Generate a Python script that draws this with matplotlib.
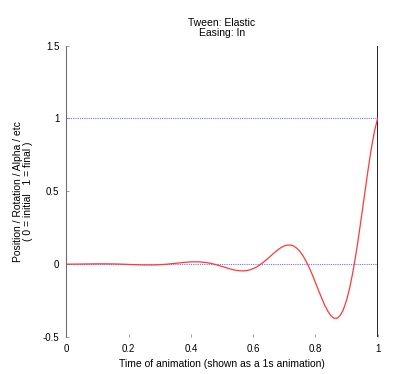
import matplotlib
matplotlib.use("Agg")
import matplotlib.pyplot as plt

# Elastic "in" curve
time = [0.0, 0.025, 0.05, 0.075, 0.1, 0.125, 0.15, 0.175, 0.2, 0.225,
        0.25, 0.275, 0.3, 0.325, 0.35, 0.375, 0.4, 0.425, 0.45, 0.475,
        0.5, 0.51, 0.52, 0.53, 0.54, 0.55, 0.56, 0.57, 0.58, 0.59,
        0.6, 0.61, 0.62, 0.63, 0.64, 0.65, 0.66, 0.67, 0.68, 0.69,
        0.7, 0.71, 0.72, 0.73, 0.74, 0.75, 0.76, 0.77, 0.78, 0.79,
        0.8, 0.81, 0.82, 0.83, 0.84, 0.85, 0.86, 0.87, 0.88, 0.89,
        0.9, 0.91, 0.92, 0.93, 0.94, 0.95, 0.96, 0.97, 0.98, 0.99, 1.0]
value = [-0.0005, 0.0, 0.0007, 0.0014, 0.002, 0.002, 0.0014, 0.0, -0.002, -0.004,
         -0.0055, -0.0057, -0.0039, 0.0, 0.0055, 0.0114, 0.0156, 0.016, 0.011, 0.0,
         -0.016, -0.022, -0.029, -0.035, -0.040, -0.044, -0.046, -0.046, -0.044, -0.039,
         -0.031, -0.021, -0.0075, 0.008, 0.025, 0.044, 0.063, 0.082, 0.099, 0.114,
         0.125, 0.131, 0.131, 0.125, 0.110, 0.088, 0.058, 0.021, -0.023, -0.072,
         -0.125, -0.179, -0.232, -0.281, -0.323, -0.354, -0.371, -0.371, -0.352, -0.312,
         -0.250, -0.166, -0.060, 0.064, 0.204, 0.354, 0.507, 0.657, 0.796, 0.913, 1.0]

x_ticks = [0, 0.2, 0.4, 0.6, 0.8, 1]
x_labels = ["0", "0.2", "0.4", "0.6", "0.8", "1"]
y_ticks = [-0.5, 0, 0.5, 1, 1.5]
y_labels = ["-0.5", "0", "0.5", "1", "1.5"]

plt.rcParams['font.family'] = ['Liberation Sans', 'DejaVu Sans']

fig = plt.figure(figsize=(4, 3.74), dpi=100)
ax = fig.add_axes([0.166, 0.099, 0.778, 0.779])

# reference lines at start and end values
ax.plot([0, 1], [0, 0], color="#7070ff", lw=0.8, ls=(0, (1, 1)))
ax.plot([0, 1], [1, 1], color="#7070ff", lw=0.8, ls=(0, (1, 1)))
ax.axvline(1, color="black", lw=1.2)

ax.plot(time, value, color="#ff3838", lw=0.9)

ax.set_xlim(0, 1)
ax.set_ylim(-0.5, 1.5)
ax.set_xticks(x_ticks)
ax.set_xticklabels(x_labels)
ax.set_yticks(y_ticks)
ax.set_yticklabels(y_labels)

for side in ["top", "right", "bottom"]:
    ax.spines[side].set_visible(False)
ax.spines["left"].set_color("#707070")
ax.spines["left"].set_linewidth(0.8)

ax.tick_params(axis="both", direction="in", length=2.5, width=0.6,
               color="#909090", labelsize=7)
ax.tick_params(axis="x", pad=5)
ax.tick_params(axis="y", pad=5)

ax.set_title("Tween: Elastic\nEasing: In", fontsize=7.5, pad=7, linespacing=1.05)
ax.set_xlabel("Time of animation (shown as a 1s animation)", fontsize=7.5, labelpad=4)
ax.set_ylabel("Position / Rotation / Alpha / etc\n( 0 = initial   1 = final )",
              fontsize=7.5, labelpad=7, linespacing=1.05)

fig.savefig("out.png", dpi=100)
